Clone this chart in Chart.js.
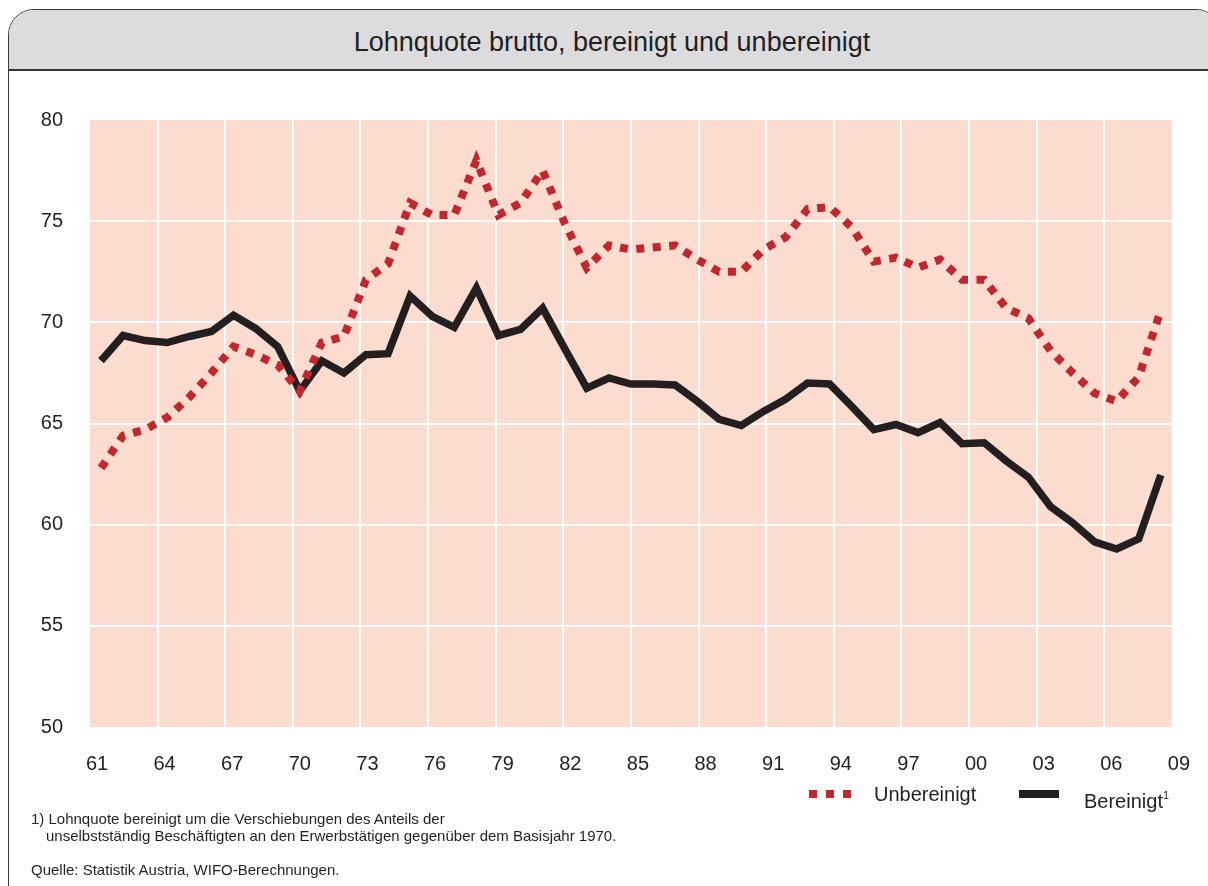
<!DOCTYPE html>
<html>
<head>
<meta charset="utf-8">
<script src="https://cdn.jsdelivr.net/npm/chart.js@4.4.1/dist/chart.umd.min.js"></script>
<style>
  html, body { margin: 0; padding: 0; background: #fff; overflow: hidden; }
  body { width: 1208px; height: 886px; position: relative; font-family: "Liberation Sans", Arial, sans-serif; color: #231f20; }
  #frame { position: absolute; left: 8px; top: 9px; width: 1214px; height: 920px; box-sizing: border-box;
           border: 1.5px solid #3a3a3a; border-radius: 26px 26px 0 0; overflow: hidden; }
  #head { position: absolute; left: 0; top: 0; right: 0; height: 59px; background: #dcdcde; border-bottom: 2px solid #333; }
  #title { position: absolute; left: 0; width: 1206px; top: 19px; text-align: center; font-size: 27px; line-height: 27px; }
  #chart { position: absolute; left: 0; top: 0; }
  .txt { position: absolute; white-space: nowrap; }
  .sq { position: absolute; width: 8px; height: 8px; background: #c1272d; top: 790px; }
  .note { position: absolute; font-size: 15px; line-height: 15px; white-space: nowrap; }
</style>
</head>
<body>
<div id="frame"><div id="head"><div id="title">Lohnquote brutto, bereinigt und unbereinigt</div></div></div>
<canvas id="chart" width="1208" height="886"></canvas>

<!-- legend -->
<div class="sq" style="left:809px"></div>
<div class="sq" style="left:826px"></div>
<div class="sq" style="left:843px"></div>
<div class="txt" style="left:874px; top:784px; font-size:20px; line-height:20px">Unbereinigt</div>
<div style="position:absolute; left:1019px; top:790px; width:40px; height:8px; background:#231f20"></div>
<div class="txt" style="left:1084px; top:785px; font-size:20px; line-height:20px">Bereinigt<sup style="font-size:11px; vertical-align:9px">1</sup></div>

<!-- footnotes -->
<div class="note" style="left:31px; top:811px">1) Lohnquote bereinigt um die Verschiebungen des Anteils der</div>
<div class="note" style="left:46px; top:828px">unselbstständig Beschäftigten an den Erwerbstätigen gegenüber dem Basisjahr 1970.</div>
<div class="note" style="left:31px; top:862px">Quelle: Statistik Austria, WIFO-Berechnungen.</div>

<script>
// ===== Data =====
const years = [];
for (let y = 1961; y <= 2009; y++) years.push(y);

const unbereinigt = [
  62.8, 64.4, 64.7, 65.3, 66.3, 67.5, 68.8, 68.4, 67.9, 66.6,
  69.0, 69.3, 72.1, 72.9, 75.9, 75.3, 75.3, 78.0, 75.3, 75.9,
  77.5, 74.9, 72.7, 73.8, 73.6, 73.7, 73.8, 73.1, 72.5, 72.5,
  73.6, 74.2, 75.6, 75.7, 74.7, 73.0, 73.2, 72.7, 73.1, 72.1,
  72.1, 70.7, 70.2, 68.6, 67.5, 66.5, 66.1, 67.3, 70.6
];

const bereinigt = [
  68.1, 69.35, 69.1, 69.0, 69.3, 69.55, 70.35, 69.7, 68.8, 66.6,
  68.1, 67.5, 68.4, 68.45, 71.3, 70.3, 69.75, 71.7, 69.35, 69.65,
  70.7, 68.7, 66.75, 67.25, 66.95, 66.95, 66.9, 66.1, 65.2, 64.9,
  65.6, 66.2, 67.0, 66.95, 65.85, 64.7, 64.95, 64.55, 65.05, 64.0,
  64.05, 63.15, 62.35, 60.9, 60.1, 59.15, 58.8, 59.3, 62.45
];

const tickLabels = ["61", "64", "67", "70", "73", "76", "79", "82", "85",
                    "88", "91", "94", "97", "00", "03", "06", "09"];

// ===== Helpers =====
const edgeless = (c) =>
  (c.index === 0 || c.index === c.scale.ticks.length - 1) ? "rgba(0,0,0,0)" : "#ffffff";

const plotBg = {
  id: "plotBg",
  beforeDraw(chart) {
    const { ctx, chartArea: a } = chart;
    ctx.save();
    ctx.fillStyle = "#fcdccf";
    ctx.fillRect(a.left, a.top, a.right - a.left, a.bottom - a.top);
    ctx.restore();
  }
};

const toPoints = (vals) => vals.map((v, i) => ({ x: years[i], y: v }));

new Chart(document.getElementById("chart"), {
  type: "line",
  data: {
    datasets: [
      {
        label: "Unbereinigt",
        data: toPoints(unbereinigt),
        borderColor: "#c1272d",
        borderWidth: 8,
        borderDash: [8, 8.5],
        borderCapStyle: "butt",
        borderJoinStyle: "miter",
        pointRadius: 0,
        tension: 0,
        xAxisID: "x"
      },
      {
        label: "Bereinigt",
        data: toPoints(bereinigt),
        borderColor: "#231f20",
        borderWidth: 7.5,
        borderJoinStyle: "miter",
        pointRadius: 0,
        tension: 0,
        xAxisID: "x"
      }
    ]
  },
  options: {
    responsive: false,
    animation: false,
    devicePixelRatio: 1,
    layout: { padding: { left: 0, top: 120, right: 33, bottom: 99 } },
    plugins: { legend: { display: false }, tooltip: { enabled: false } },
    scales: {
      x: { type: "linear", min: 1960.5, max: 2009.5, display: false },
      g: {
        type: "linear",
        position: "bottom",
        min: 0,
        max: 16,
        afterFit(s) { s.height = 60; },
        border: { display: false },
        grid: { color: edgeless, lineWidth: 2, drawTicks: false },
        ticks: {
          stepSize: 1,
          padding: 25,
          labelOffset: 7,
          color: "#231f20",
          font: { family: "Liberation Sans", size: 20 },
          callback: (v) => tickLabels[v]
        }
      },
      y: {
        min: 50,
        max: 80,
        afterFit(s) { s.width = 90; },
        border: { display: false },
        grid: { color: edgeless, lineWidth: 2, drawTicks: false },
        ticks: {
          stepSize: 5,
          padding: 27,
          color: "#231f20",
          font: { family: "Liberation Sans", size: 20 }
        }
      }
    }
  },
  plugins: [plotBg]
});
</script>
</body>
</html>
